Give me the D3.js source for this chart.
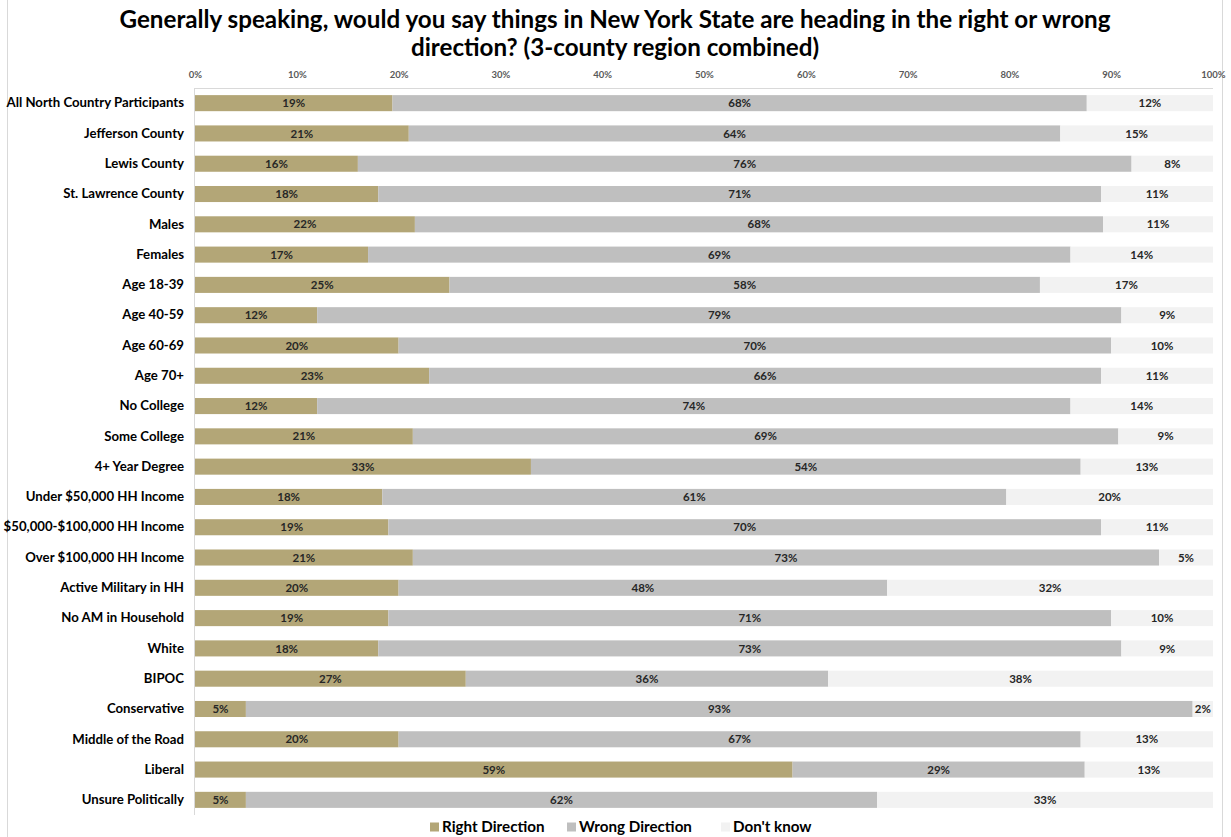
<!DOCTYPE html>
<html>
<head>
<meta charset="utf-8">
<script src="https://cdn.jsdelivr.net/npm/d3@7"></script>
<style>
  html, body { margin: 0; padding: 0; background: #fff; }
  svg { display: block; font-family: Lato, "Open Sans", sans-serif; }
</style>
</head>
<body>
<svg id="chart" width="1231" height="837"></svg>
<script>
const categories = [
  "All North Country Participants", "Jefferson County", "Lewis County", "St. Lawrence County",
  "Males", "Females", "Age 18-39", "Age 40-59", "Age 60-69", "Age 70+",
  "No College", "Some College", "4+ Year Degree", "Under $50,000 HH Income",
  "$50,000-$100,000 HH Income", "Over $100,000 HH Income", "Active Military in HH",
  "No AM in Household", "White", "BIPOC", "Conservative", "Middle of the Road",
  "Liberal", "Unsure Politically"
];
const rightDirection = [19.4, 21, 16, 18, 21.6, 17, 25, 12, 20, 23, 12, 21.4, 33, 18.4, 19, 21.4, 20, 19, 18, 26.6, 5, 20, 58.7, 5];
const wrongDirection = [68.2, 64, 76, 71, 67.6, 69, 58, 79, 70, 66, 74, 69.3, 54, 61.3, 70, 73.3, 48, 71, 73, 35.6, 93, 67, 28.7, 62];
const dontKnow       = [12.4, 15, 8, 11, 10.8, 14, 17, 9, 10, 11, 14, 9.3, 13, 20.3, 11, 5.3, 32, 10, 9, 37.8, 2, 13, 12.6, 33];
const seriesNames = ["Right Direction", "Wrong Direction", "Don't know"];
const tickValues = [0, 10, 20, 30, 40, 50, 60, 70, 80, 90, 100];
const titleLines = [
  "Generally speaking, would you say things in New York State are heading in the right or wrong",
  "direction? (3-county region combined)"
];

const colors = ["#B3A677", "#BFBFBF", "#F2F2F2"];
const svg = d3.select("#chart");

// chart border
svg.append("rect").attr("x", 7.5).attr("y", -2).attr("width", 1215).attr("height", 842)
  .attr("fill", "none").attr("stroke", "#D9D9D9").attr("stroke-width", 1);

// title
svg.append("g").selectAll("text").data(titleLines).join("text")
  .attr("x", 615).attr("y", (d, i) => 28 + i * 28)
  .attr("text-anchor", "middle")
  .attr("font-size", 24.2).attr("font-weight", "bold").attr("fill", "#000")
  .text(d => d);

const x = d3.scaleLinear().domain([0, 100]).range([195, 1213]).clamp(true);
const y = d3.scaleBand().domain(categories).range([88, 815]).paddingInner(0.47).paddingOuter(0.235);

// top axis
const xAxis = d3.axisTop(x).tickValues(tickValues).tickFormat(d => d + "%").tickSize(0).tickPadding(0);
const gx = svg.append("g").attr("transform", "translate(0,78)").call(xAxis);
gx.select(".domain").remove();
gx.selectAll("text").attr("font-size", 9.5).attr("font-weight", "bold").attr("fill", "#595959")
  .attr("font-family", "Lato, sans-serif");

svg.append("line").attr("x1", x(0)).attr("x2", x(100)).attr("y1", 88.5).attr("y2", 88.5)
  .attr("stroke", "#D9D9D9");
svg.append("line").attr("x1", x(0) - 0.5).attr("x2", x(0) - 0.5).attr("y1", 88).attr("y2", 815)
  .attr("stroke", "#D9D9D9");

// left axis labels
const yAxis = d3.axisLeft(y).tickSize(0).tickPadding(11);
const gy = svg.append("g").attr("transform", `translate(${x(0)},0)`).call(yAxis);
gy.select(".domain").remove();
gy.selectAll("text").attr("font-size", 13.2).attr("font-weight", "bold").attr("fill", "#000")
  .attr("font-family", "Lato, sans-serif");

// stacked data
const rows = categories.map((c, i) => ({ cat: c, vals: [rightDirection[i], wrongDirection[i], dontKnow[i]] }));
const segs = [];
rows.forEach(r => {
  let acc = 0;
  r.vals.forEach((v, k) => { segs.push({ cat: r.cat, k, v, x0: acc, x1: acc + v }); acc += v; });
});

svg.append("g").selectAll("rect").data(segs).join("rect")
  .attr("x", d => x(d.x0)).attr("width", d => x(d.x1) - x(d.x0))
  .attr("y", d => y(d.cat)).attr("height", y.bandwidth())
  .attr("fill", d => colors[d.k]);

svg.append("g").selectAll("text").data(segs).join("text")
  .attr("x", d => (x(d.x0) + x(d.x1)) / 2)
  .attr("y", d => y(d.cat) + y.bandwidth() / 2)
  .attr("dy", "0.36em")
  .attr("text-anchor", "middle")
  .attr("font-size", 11.5).attr("font-weight", "bold").attr("fill", "#262626")
  .text(d => Math.round(d.v) + "%");

// legend
const legendX = [430, 567, 721];
const lg = svg.append("g").selectAll("g").data(seriesNames).join("g")
  .attr("transform", (d, i) => `translate(${legendX[i]},827)`);
lg.append("rect").attr("x", 0).attr("y", -4.5).attr("width", 9).attr("height", 9)
  .attr("fill", (d, i) => colors[i]);
lg.append("text").attr("x", 12).attr("y", 0).attr("dy", "0.36em")
  .attr("font-size", 15.2).attr("font-weight", "bold").attr("fill", "#000")
  .text(d => d);
</script>
</body>
</html>
